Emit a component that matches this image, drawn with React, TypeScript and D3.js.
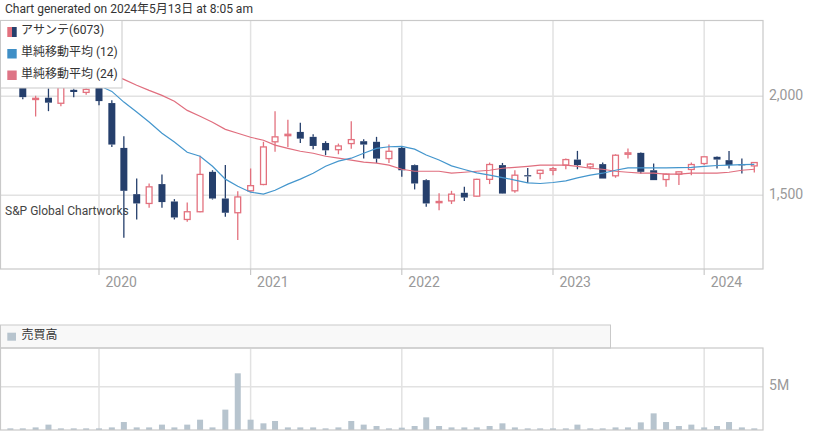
import React from 'react';
import * as d3 from 'd3';

const months = [
  '2019-06','2019-07','2019-08','2019-09','2019-10','2019-11','2019-12',
  '2020-01','2020-02','2020-03','2020-04','2020-05','2020-06','2020-07','2020-08','2020-09','2020-10','2020-11','2020-12',
  '2021-01','2021-02','2021-03','2021-04','2021-05','2021-06','2021-07','2021-08','2021-09','2021-10','2021-11','2021-12',
  '2022-01','2022-02','2022-03','2022-04','2022-05','2022-06','2022-07','2022-08','2022-09','2022-10','2022-11','2022-12',
  '2023-01','2023-02','2023-03','2023-04','2023-05','2023-06','2023-07','2023-08','2023-09','2023-10','2023-11','2023-12',
  '2024-01','2024-02','2024-03','2024-04','2024-05'
];

const openP = [
  2080,2050,1985,1993,1965,2033,2020,
  2045,1966,1739,1505,1458,1556,1468,1377,1416,1618,1483,1411,
  1522,1554,1770,1801,1820,1795,1764,1730,1761,1773,1770,1685,
  1739,1652,1576,1463,1471,1512,1495,1580,1652,1522,1601,1610,
  1626,1652,1680,1643,1657,1598,1707,1714,1626,1579,1606,1630,
  1660,1694,1677,1657,1648
];
const highP = [
  2110,2065,2003,2040,2060,2038,2040,
  2060,1980,1798,1584,1559,1605,1480,1463,1700,1626,1652,1520,
  1635,1770,1924,1882,1867,1808,1773,1761,1874,1783,1795,1756,
  1744,1655,1581,1509,1522,1542,1583,1665,1663,1626,1638,1628,
  1643,1685,1724,1663,1665,1707,1736,1717,1660,1610,1621,1665,
  1697,1697,1724,1685,1668
];
const lowP = [
  2050,1985,1898,1925,1950,1996,2008,
  1955,1744,1284,1377,1436,1436,1377,1365,1414,1478,1391,1273,
  1517,1550,1719,1744,1764,1732,1702,1707,1735,1685,1663,1663,
  1593,1529,1441,1424,1455,1471,1492,1556,1507,1512,1562,1580,
  1601,1631,1631,1631,1584,1588,1685,1610,1576,1542,1551,1601,
  1652,1635,1635,1610,1615
];
const closeP = [
  2060,1996,1990,1968,2045,2022,2035,
  1976,1756,1522,1458,1542,1465,1387,1416,1605,1483,1411,1491,
  1548,1744,1795,1808,1786,1749,1727,1749,1781,1756,1685,1722,
  1626,1559,1458,1468,1505,1488,1580,1655,1508,1601,1598,1626,
  1634,1680,1652,1657,1584,1702,1714,1618,1576,1606,1618,1655,
  1694,1680,1652,1654,1665
];
const sma12 = [
  2150,2140,2125,2110,2095,2080,2068,
  2055,2025,1971,1921,1870,1813,1769,1717,1697,1646,1581,1545,
  1515,1505,1525,1556,1581,1611,1646,1672,1687,1712,1737,1745,
  1747,1733,1703,1678,1648,1630,1613,1601,1589,1576,1562,1559,
  1564,1572,1587,1601,1611,1626,1638,1638,1638,1638,1639,1641,
  1646,1650,1652,1654,1656
];
const sma24 = [
  2200,2190,2180,2170,2160,2150,2140,
  2131,2111,2086,2056,2030,2005,1975,1929,1899,1869,1833,1813,
  1793,1778,1753,1737,1722,1712,1697,1687,1677,1667,1662,1652,
  1631,1621,1621,1621,1611,1616,1621,1626,1636,1641,1646,1652,
  1652,1652,1646,1636,1631,1621,1616,1611,1611,1606,1606,1611,
  1611,1611,1616,1626,1631
];
// volume in millions of shares
const volumeM = [
  0.19,0.19,0.3,0.62,0.19,0.19,0.19,
  0.19,0.3,0.92,0.3,0.3,0.62,0.3,0.62,1.19,0.3,2.35,6.54,
  1.19,0.77,1.04,0.3,0.3,0.3,0.19,0.3,1.04,0.62,0.46,0.19,
  0.27,0.46,1.46,0.46,0.3,0.3,0.3,0.46,0.77,0.3,0.19,0.19,
  0.19,0.19,0.62,0.19,0.19,0.3,0.3,0.88,1.92,0.92,0.46,0.62,
  0.3,0.46,0.92,0.3,0.19
];
const priceTicks = [1500, 2000];
const volumeTicks = [5];

const W = 833;
const H = 436;
const FONT = 'Roboto, "Noto Sans CJK JP", sans-serif';
const DARK = '#253f6c';
const RED = '#e3717e';
const GRID = '#e2e2e2';
const BORDER = '#c9c9c9';

export default function App() {
  const parse = d3.timeParse('%Y-%m');
  const dates = months.map((m) => parse(m) as Date);

  const plotL = 0;
  const plotR = 763;
  const mainTop = 20.5;
  const mainBot = 269;
  const volTop = 348;
  const volBot = 430;

  const x = d3
    .scaleTime()
    .domain([new Date(2019, 4, 7), new Date(2024, 4, 22)])
    .range([plotL, plotR]);
  const y = d3.scaleLinear().domain([1126.3, 2383.8]).range([mainBot, mainTop]);
  const yv = d3.scaleLinear().domain([0, 9.46]).range([volBot, volTop]);

  const years = d3.timeYear.range(new Date(2019, 5, 1), new Date(2024, 5, 1));

  const line12 = d3
    .line<number>()
    .x((_, i) => x(dates[i]))
    .y((d) => y(d));

  const candleW = 7;
  const volW = 6;

  return (
    <svg
      width={W}
      height={H}
      style={{ position: 'absolute', left: 0, top: 0, background: '#fff' }}
      fontFamily={FONT}
    >
      <rect x={0} y={0} width={W} height={H} fill="#fff" />
      {/* title */}
      <text x={5} y={13} fontSize={12} fill="#333">
        Chart generated on 2024年5月13日 at 8:05 am
      </text>

      {/* main plot grid */}
      {priceTicks.map((t) => (
        <line key={'pg' + t} x1={plotL} x2={plotR} y1={y(t)} y2={y(t)} stroke={GRID} strokeWidth={1.5} />
      ))}
      {years.map((d) => (
        <line key={'yg' + d.getFullYear()} x1={x(d)} x2={x(d)} y1={mainTop} y2={mainBot} stroke={GRID} strokeWidth={1.5} />
      ))}
      <rect x={plotL + 0.5} y={mainTop} width={plotR - plotL - 0.5} height={mainBot - mainTop} fill="none" stroke={BORDER} strokeWidth={1.2} />
      {years.map((d) => (
        <g key={'yt' + d.getFullYear()}>
          <line x1={x(d)} x2={x(d)} y1={mainBot} y2={mainBot + 6} stroke={BORDER} strokeWidth={1.2} />
          <text x={x(d) + 6.5} y={283} fontSize={14} fill="#999" dominantBaseline="middle">
            {d3.timeFormat('%Y')(d)}
          </text>
        </g>
      ))}
      {priceTicks.map((t) => (
        <text key={'pl' + t} x={769} y={y(t)} fontSize={14} fill="#999" dominantBaseline="middle">
          {d3.format(',')(t)}
        </text>
      ))}

      {/* watermark text */}
      <text x={5} y={212} fontSize={12} fill="#444" dominantBaseline="middle">
        S&amp;P Global Chartworks
      </text>

      {/* candles */}
      {dates.map((d, i) => {
        const o = openP[i];
        const c = closeP[i];
        const up = c >= o;
        const cx = x(d);
        const top = y(Math.max(o, c));
        const bot = y(Math.min(o, c));
        const col = up ? RED : DARK;
        const bh = Math.max(bot - top, 1.2);
        return (
          <g key={'c' + i}>
            <line x1={cx} x2={cx} y1={y(highP[i])} y2={top} stroke={col} strokeWidth={1.3} />
            <line x1={cx} x2={cx} y1={top + bh} y2={y(lowP[i])} stroke={col} strokeWidth={1.3} />
            {up ? (
              <rect x={cx - candleW / 2 + 0.6} y={top} width={candleW - 1.2} height={bh} fill="#fff" stroke={col} strokeWidth={1.3} />
            ) : (
              <rect x={cx - candleW / 2} y={top} width={candleW} height={bh} fill={col} stroke="none" />
            )}
          </g>
        );
      })}

      {/* moving averages */}
      <path d={line12(sma24) || ''} fill="none" stroke="#e06e7e" strokeWidth={1.2} />
      <path d={line12(sma12) || ''} fill="none" stroke="#4496cd" strokeWidth={1.2} />

      {/* main legend */}
      <rect x={0.5} y={mainTop} width={121.5} height={67.5} fill="#fff" stroke={BORDER} strokeWidth={1} />
      <rect x={7.3} y={27} width={4.7} height={10} fill={RED} />
      <rect x={12} y={27} width={4.7} height={10} fill={DARK} />
      <text x={21} y={31} fontSize={12} fill="#333" dominantBaseline="middle">アサンテ(6073)</text>
      <rect x={7.3} y={49} width={9.4} height={9.5} fill="#3f8fc6" />
      <text x={21} y={53} fontSize={12} fill="#333" dominantBaseline="middle">単純移動平均 (12)</text>
      <rect x={7.3} y={70.5} width={9.4} height={9.5} fill="#de7486" />
      <text x={21} y={75} fontSize={12} fill="#333" dominantBaseline="middle">単純移動平均 (24)</text>

      {/* volume panel */}
      <rect x={0.5} y={325} width={610} height={23} fill="#f8f8f8" stroke={BORDER} strokeWidth={1} />
      <rect x={7.3} y={332.7} width={8.7} height={8} fill="#b7c4ce" />
      <text x={21.5} y={336} fontSize={12} fill="#333" dominantBaseline="middle">売買高</text>

      {volumeTicks.map((t) => (
        <line key={'vg' + t} x1={plotL} x2={plotR} y1={yv(t)} y2={yv(t)} stroke={GRID} strokeWidth={1.5} />
      ))}
      {years.map((d) => (
        <line key={'vy' + d.getFullYear()} x1={x(d)} x2={x(d)} y1={volTop} y2={volBot} stroke={GRID} strokeWidth={1.5} />
      ))}
      {dates.map((d, i) => (
        <rect key={'v' + i} x={x(d) - volW / 2} y={yv(volumeM[i])} width={volW} height={volBot - yv(volumeM[i])} fill="#b7c4ce" />
      ))}
      <rect x={plotL + 0.5} y={volTop} width={plotR - plotL - 0.5} height={volBot - volTop} fill="none" stroke={BORDER} strokeWidth={1.2} />
      {volumeTicks.map((t) => (
        <text key={'vl' + t} x={769} y={yv(t)} fontSize={14} fill="#999" dominantBaseline="middle">
          {t}M
        </text>
      ))}
    </svg>
  );
}
